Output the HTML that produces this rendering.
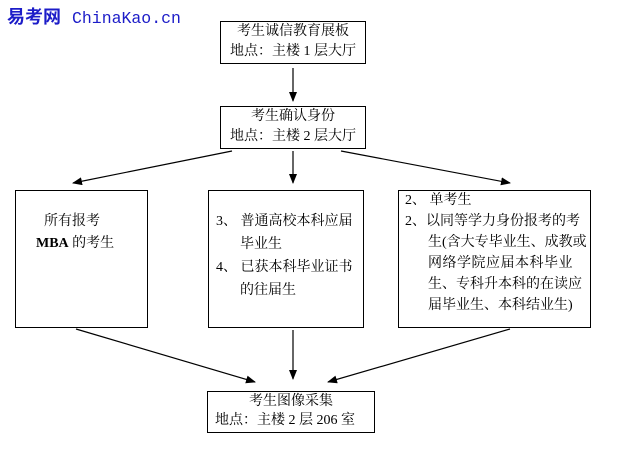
<!DOCTYPE html>
<html><head><meta charset="utf-8"><style>
body{margin:0;width:621px;height:451px;background:#fff;position:relative;overflow:hidden;font-family:"Liberation Serif","Noto Serif CJK SC","Noto Sans CJK SC",serif;color:#000}
.b{position:absolute;border:1.5px solid #000;box-sizing:border-box}
.t{position:absolute;font-size:14px;line-height:14px;white-space:nowrap}
.c{text-align:center}
</style></head><body>
<div style="position:absolute;left:7px;top:5px;color:#1c1cc8;white-space:nowrap">
<span style="font-family:'Noto Sans CJK SC',sans-serif;font-weight:bold;font-size:18px;line-height:22px">易考网</span><span style="font-family:'Liberation Mono',monospace;font-size:16.5px;margin-left:11px;line-height:22px">ChinaKao.cn</span></div>

<div class="b" style="left:220px;top:21px;width:146px;height:43px"></div>
<div class="t c" style="left:220px;width:146px;top:25px">考生诚信教育展板</div>
<div class="t c" style="left:220px;width:146px;top:45px">地点：主楼 1 层大厅</div>

<div class="b" style="left:220px;top:106px;width:146px;height:43px"></div>
<div class="t c" style="left:220px;width:146px;top:110px">考生确认身份</div>
<div class="t c" style="left:220px;width:146px;top:130px">地点：主楼 2 层大厅</div>

<div class="b" style="left:15px;top:190px;width:133px;height:138px"></div>
<div class="t" style="left:44px;top:215px">所有报考</div>
<div class="t" style="left:36px;top:237px"><b>MBA</b> 的考生</div>

<div class="b" style="left:208px;top:190px;width:156px;height:138px"></div>
<div class="t" style="left:216px;top:215px">3、 普通高校本科应届</div>
<div class="t" style="left:240px;top:238px">毕业生</div>
<div class="t" style="left:216px;top:261px">4、 已获本科毕业证书</div>
<div class="t" style="left:240px;top:284px">的往届生</div>

<div class="b" style="left:398px;top:190px;width:193px;height:138px"></div>
<div class="t" style="left:405px;top:194px">2、 单考生</div>
<div class="t" style="left:405px;top:215px">2、以同等学力身份报考的考</div>
<div class="t" style="left:428px;top:236px">生(含大专毕业生、成教或</div>
<div class="t" style="left:428px;top:257px;letter-spacing:0.5px">网络学院应届本科毕业</div>
<div class="t" style="left:428px;top:278px">生、专科升本科的在读应</div>
<div class="t" style="left:428px;top:299px">届毕业生、本科结业生)</div>

<div class="b" style="left:207px;top:391px;width:168px;height:42px"></div>
<div class="t c" style="left:207px;width:168px;top:395px">考生图像采集</div>
<div class="t" style="left:215px;top:414px">地点：主楼 2 层 206 室</div>

<svg width="621" height="451" style="position:absolute;left:0;top:0">
<defs><marker id="a" markerWidth="10" markerHeight="8" refX="9" refY="4" orient="auto" markerUnits="userSpaceOnUse"><path d="M0,0 L10,4 L0,8 z" fill="#000"/></marker></defs>
<g stroke="#000" stroke-width="1.2" fill="none" marker-end="url(#a)">
<line x1="293" y1="68" x2="293" y2="101"/>
<line x1="232" y1="151" x2="73" y2="183"/>
<line x1="293" y1="151" x2="293" y2="183"/>
<line x1="341" y1="151" x2="510" y2="183"/>
<line x1="76" y1="329" x2="255" y2="382"/>
<line x1="293" y1="330" x2="293" y2="379"/>
<line x1="510" y1="329" x2="328" y2="382"/>
</g></svg>
</body></html>
